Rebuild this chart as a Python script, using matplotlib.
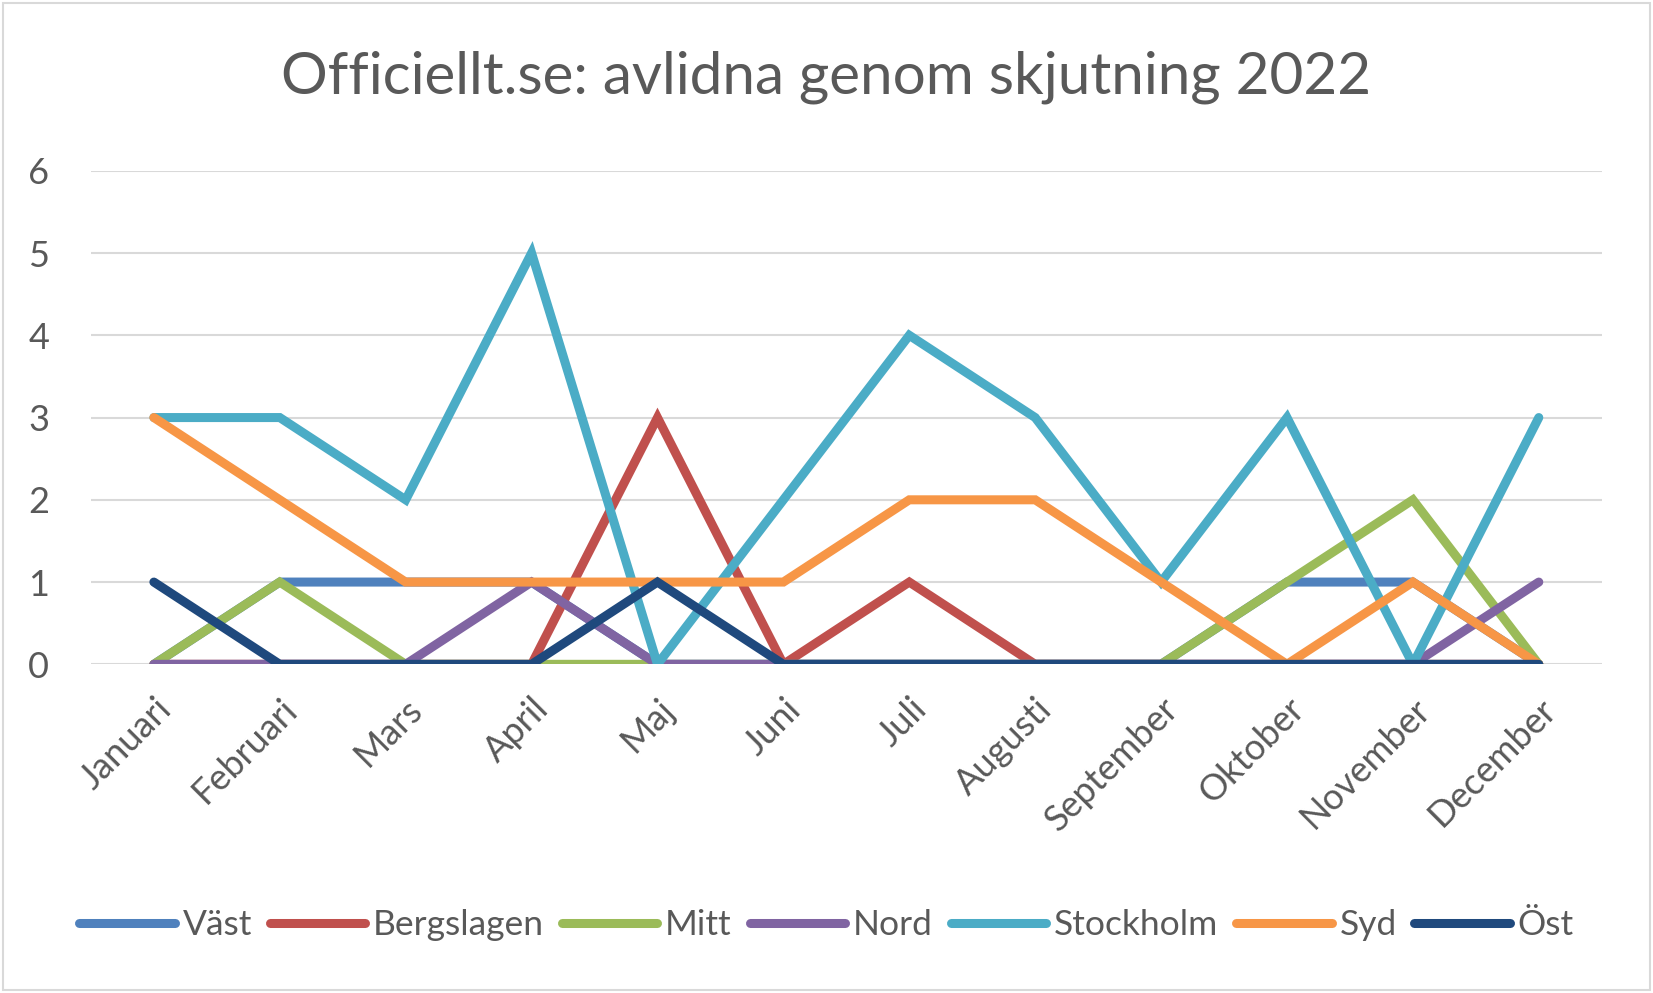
import matplotlib
matplotlib.use('Agg')
import matplotlib.pyplot as plt
from matplotlib.patches import Rectangle

# data
manader = ["Januari", "Februari", "Mars", "April", "Maj", "Juni", "Juli",
           "Augusti", "September", "Oktober", "November", "December"]
vast = [0, 1, 1, 1, 0, 0, 0, 0, 0, 1, 1, 0]
bergslagen = [0, 0, 0, 0, 3, 0, 1, 0, 0, 0, 0, 0]
mitt = [0, 1, 0, 0, 0, 0, 0, 0, 0, 1, 2, 0]
nord = [0, 0, 0, 1, 0, 0, 0, 0, 0, 0, 0, 1]
stockholm = [3, 3, 2, 5, 0, 2, 4, 3, 1, 3, 0, 3]
syd = [3, 2, 1, 1, 1, 1, 2, 2, 1, 0, 1, 0]
ost = [1, 0, 0, 0, 1, 0, 0, 0, 0, 0, 0, 0]

serier = [
    ("Väst", vast, "#4F81BD"),
    ("Bergslagen", bergslagen, "#C0504D"),
    ("Mitt", mitt, "#9BBB59"),
    ("Nord", nord, "#8064A2"),
    ("Stockholm", stockholm, "#4BACC6"),
    ("Syd", syd, "#F79646"),
    ("Öst", ost, "#1F497D"),
]

plt.rcParams['font.family'] = ['Lato', 'DejaVu Sans']
textfarg = "#595959"

fig = plt.figure(figsize=(16.53, 9.93), dpi=100)
ax = fig.add_axes([0.055, 0.331, 0.914, 0.497])

x = list(range(len(manader)))
for namn, varden, farg in serier:
    ax.plot(x, varden, color=farg, linewidth=6.5, label=namn,
            solid_capstyle='round', solid_joinstyle='miter')

ax.set_xlim(-0.5, len(manader) - 0.5)
ax.set_ylim(0, 6)
ax.set_yticks(range(7))
ax.yaxis.grid(True, color="#D9D9D9", linewidth=1.5)
ax.set_axisbelow(True)
for s in ax.spines.values():
    s.set_visible(False)
ax.tick_params(axis='both', length=0, colors=textfarg, labelsize=26)
ax.tick_params(axis='y', pad=30)
ax.set_xticks(x)
ax.set_xticklabels(manader, rotation=45, ha='right', rotation_mode='anchor')
ax.tick_params(axis='x', pad=20)

fig.suptitle("Officiellt.se: avlidna genom skjutning 2022", x=0.5, y=0.922,
             fontsize=42, color=textfarg, va='center')

leg = fig.legend(loc='center', bbox_to_anchor=(0.5, 0.068), ncol=7,
                 frameon=False, fontsize=25.5, handlelength=2.7,
                 handletextpad=0.22, columnspacing=0.5)
for t in leg.get_texts():
    t.set_color(textfarg)

# outer frame
fig.patches.append(Rectangle((0.002, 0.003), 0.996, 0.994, transform=fig.transFigure,
                             fill=False, edgecolor="#D9D9D9", linewidth=1.5))

fig.savefig("out.png", dpi=100)
